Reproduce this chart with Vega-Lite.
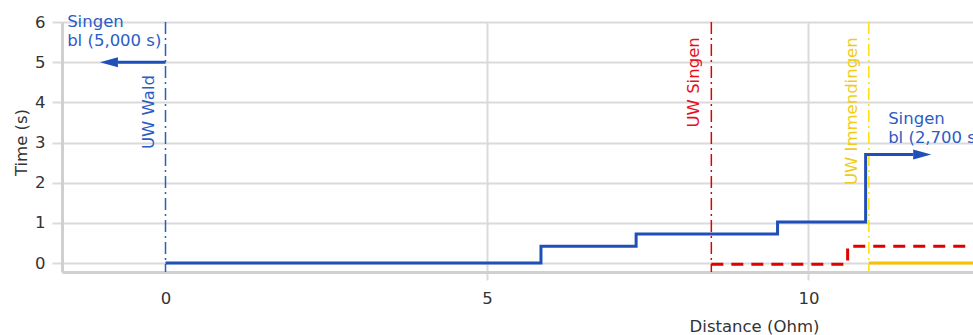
{
  "$schema": "https://vega.github.io/schema/vega-lite/v6.json",
  "width": 911,
  "height": 250,
  "autosize": {"type": "none"},
  "padding": {"left": 62, "top": 22, "right": 0, "bottom": 63},
  "background": "white",
  "config": {
    "view": {"stroke": null},
    "font": "DejaVu Sans",
    "axis": {
      "labelFont": "DejaVu Sans",
      "titleFont": "DejaVu Sans",
      "labelFontSize": 16.5,
      "titleFontSize": 16.5,
      "labelColor": "#333333",
      "titleColor": "#333333",
      "titleFontWeight": "normal",
      "gridColor": "#dadada",
      "gridWidth": 2,
      "gridOpacity": 1,
      "tickColor": "#dadada",
      "tickWidth": 2,
      "tickOpacity": 1,
      "domainColor": "#d0d0d0",
      "domainWidth": 3
    }
  },
  "datasets": {
    "blue": [
      {"x": 0, "y": 0},
      {"x": 5.84, "y": 0.42},
      {"x": 7.32, "y": 0.72},
      {"x": 9.52, "y": 1.02},
      {"x": 10.89, "y": 2.7},
      {"x": 11.63, "y": 2.7}
    ],
    "blueLeft": [
      {"x": 0, "y": 5},
      {"x": -0.74, "y": 5}
    ],
    "red": [
      {"x": 8.49, "y": -0.03},
      {"x": 10.61, "y": 0.42},
      {"x": 12.7, "y": 0.42}
    ],
    "yellow": [
      {"x": 10.94, "y": 0},
      {"x": 12.7, "y": 0}
    ],
    "arrows": [
      {"x": -1.02, "y": 5, "dir": "left"},
      {"x": 11.91, "y": 2.7, "dir": "right"}
    ],
    "stations": [
      {"name": "UW Wald", "x": 0},
      {"name": "UW Singen", "x": 8.49},
      {"name": "UW Immendingen", "x": 10.94}
    ],
    "notes": [
      {"text": ["Singen", "bl (5,000 s)"], "x": -1.53, "y": 5.87},
      {"text": ["Singen", "bl (2,700 s)"], "x": 11.24, "y": 3.46}
    ]
  },
  "resolve": {"scale": {"color": "independent"}},
  "layer": [
    {
      "mark": {"type": "rule", "color": "#dadada", "strokeWidth": 2, "clip": false},
      "encoding": {
        "x": {"datum": 0.31, "type": "quantitative"},
        "y": {"datum": 6, "type": "quantitative"},
        "y2": {"datum": -0.97}
      }
    },
    {
      "data": {"name": "stations"},
      "mark": {"type": "rule", "strokeDash": [12, 4, 2, 4], "strokeWidth": 1.5},
      "encoding": {
        "x": {"field": "x", "type": "quantitative"},
        "y": {"datum": 6, "type": "quantitative"},
        "y2": {"datum": -0.224},
        "color": {
          "field": "name", "type": "nominal", "legend": null,
          "scale": {"domain": ["UW Wald", "UW Singen", "UW Immendingen"], "range": ["#2b5cc4", "#e00000", "#ffe100"]}
        }
      }
    },
    {
      "data": {"name": "yellow"},
      "mark": {"type": "line", "color": "#f6c100", "strokeWidth": 3, "clip": true},
      "encoding": {
        "x": {"field": "x", "type": "quantitative"},
        "y": {"field": "y", "type": "quantitative"}
      }
    },
    {
      "data": {"name": "red"},
      "mark": {"type": "line", "color": "#e00000", "strokeWidth": 3, "strokeDash": [12, 8], "interpolate": "step-after", "clip": true},
      "encoding": {
        "x": {"field": "x", "type": "quantitative"},
        "y": {"field": "y", "type": "quantitative"}
      }
    },
    {
      "data": {"name": "blue"},
      "mark": {"type": "line", "color": "#1f4fb8", "strokeWidth": 3, "interpolate": "step-after"},
      "encoding": {
        "x": {
          "field": "x", "type": "quantitative",
          "scale": {"domain": [-1.61, 12.56], "nice": false, "zero": false},
          "axis": {
            "title": "Distance (Ohm)",
            "values": [0, 5, 10],
            "format": "d",
            "grid": true,
            "tickSize": 8,
            "labelPadding": 10,
            "gridColor": {"condition": {"test": "datum.value == 0", "value": "transparent"}, "value": "#dadada"},
            "tickColor": {"condition": {"test": "datum.value == 0", "value": "transparent"}, "value": "#dadada"},
            "titleX": 692,
            "titleY": 54,
            "titleBaseline": "middle"
          }
        },
        "y": {
          "field": "y", "type": "quantitative",
          "scale": {"domain": [-0.224, 6], "nice": false, "zero": false},
          "axis": {
            "title": "Time (s)",
            "values": [0, 1, 2, 3, 4, 5, 6],
            "format": "d",
            "grid": true,
            "tickSize": 10,
            "labelPadding": 7,
            "titleX": -40.5,
            "titleY": 120,
            "titleBaseline": "middle"
          }
        }
      }
    },
    {
      "data": {"name": "blueLeft"},
      "mark": {"type": "line", "color": "#1f4fb8", "strokeWidth": 3},
      "encoding": {
        "x": {"field": "x", "type": "quantitative"},
        "y": {"field": "y", "type": "quantitative"}
      }
    },
    {
      "data": {"name": "arrows"},
      "mark": {"type": "point", "filled": true, "opacity": 1, "color": "#1f4fb8", "size": 1296, "strokeWidth": 0},
      "encoding": {
        "x": {"field": "x", "type": "quantitative"},
        "y": {"field": "y", "type": "quantitative"},
        "shape": {
          "field": "dir", "type": "nominal", "legend": null,
          "scale": {"domain": ["left", "right"], "range": ["M0,0L1,-0.28L1,0.28Z", "M0,0L-1,-0.28L-1,0.28Z"]}
        }
      }
    },
    {
      "data": {"name": "stations"},
      "transform": [{"filter": "datum.name == 'UW Wald'"}],
      "mark": {"type": "text", "angle": 270, "align": "right", "baseline": "alphabetic", "dy": -12, "fontSize": 16.5, "font": "DejaVu Sans"},
      "encoding": {
        "x": {"field": "x", "type": "quantitative"},
        "y": {"datum": 4.68, "type": "quantitative"},
        "text": {"field": "name"},
        "color": {
          "field": "name", "type": "nominal", "legend": null,
          "scale": {"domain": ["UW Wald", "UW Singen", "UW Immendingen"], "range": ["#2b5cc4", "#e8101a", "#f2cc14"]}
        }
      }
    },
    {
      "data": {"name": "stations"},
      "transform": [{"filter": "datum.name != 'UW Wald'"}],
      "mark": {"type": "text", "angle": 270, "align": "right", "baseline": "alphabetic", "dy": -12, "fontSize": 16.5, "font": "DejaVu Sans"},
      "encoding": {
        "x": {"field": "x", "type": "quantitative"},
        "y": {"datum": 5.62, "type": "quantitative"},
        "text": {"field": "name"},
        "color": {
          "field": "name", "type": "nominal", "legend": null,
          "scale": {"domain": ["UW Wald", "UW Singen", "UW Immendingen"], "range": ["#2b5cc4", "#e8101a", "#f2cc14"]}
        }
      }
    },
    {
      "data": {"name": "notes"},
      "mark": {"type": "text", "align": "left", "baseline": "alphabetic", "lineHeight": 19, "fontSize": 16.5, "font": "DejaVu Sans", "color": "#2b5cc4"},
      "encoding": {
        "x": {"field": "x", "type": "quantitative"},
        "y": {"field": "y", "type": "quantitative"},
        "text": {"field": "text"}
      }
    }
  ]
}
